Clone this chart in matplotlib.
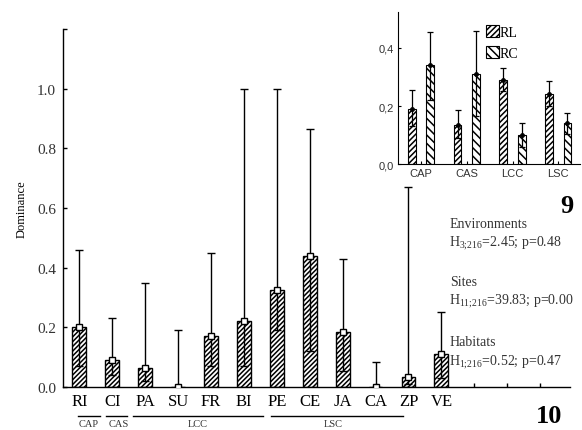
import numpy as np
import matplotlib
matplotlib.use('Agg')
import matplotlib.pyplot as plt
import matplotlib.transforms as mtransforms

plt.rcParams['font.family'] = ['Liberation Serif', 'DejaVu Serif']
plt.rcParams['mathtext.fontset'] = 'custom'
plt.rcParams['mathtext.rm'] = 'Liberation Serif'
plt.rcParams['mathtext.it'] = 'Liberation Serif:italic'
plt.rcParams['hatch.linewidth'] = 1.1

# main chart: dominance per site
sites = ['RI', 'CI', 'PA', 'SU', 'FR', 'BI', 'PE', 'CE', 'JA', 'CA', 'ZP', 'VE']
dominance = [0.20, 0.09, 0.065, 0.0, 0.17, 0.22, 0.325, 0.44, 0.185, 0.0, 0.035, 0.11]
err_upper = [0.46, 0.23, 0.35, 0.19, 0.45, 1.0, 1.0, 0.865, 0.43, 0.085, 0.67, 0.25]
err_lower = [0.07, 0.04, 0.02, 0.0, 0.07, 0.07, 0.19, 0.12, 0.055, 0.0, 0.01, 0.03]
n_slots = 15

# site groups (environment) under the axis
groups = ['CAP', 'CAS', 'LCC', 'LSC']
group_span = [(-0.03, 0.64), (0.82, 1.45), (1.64, 5.58), (5.82, 9.82)]
group_label_x = [0.27, 1.2, 3.6, 7.7]

# inset: RL / RC per environment
envs = ['CAP', 'CAS', 'LCC', 'LSC']
rl_vals = [0.19, 0.135, 0.29, 0.24]
rl_up = [0.255, 0.185, 0.33, 0.285]
rl_lo = [0.13, 0.09, 0.25, 0.20]
rc_vals = [0.34, 0.31, 0.10, 0.14]
rc_up = [0.455, 0.46, 0.14, 0.175]
rc_lo = [0.22, 0.165, 0.06, 0.105]

fig = plt.figure(figsize=(5.82, 4.31), dpi=100)
ax = fig.add_axes([0.108, 0.0998, 0.871, 0.8302])

x = np.arange(len(sites))
dom = np.array(dominance)
ax.bar(x, dom, width=0.42, facecolor='white', edgecolor='black',
       hatch='///////', linewidth=1.0, zorder=2)
yerr = np.array([dom - np.array(err_lower), np.array(err_upper) - dom])
ax.errorbar(x, dom, yerr=yerr, fmt='s', mfc='white', mec='black', ms=4,
            mew=1.0, ecolor='black', elinewidth=1.0, capsize=3, capthick=1.0,
            zorder=3)

ax.set_xlim(-0.5, 14.9)
ax.set_ylim(0, 1.2)
ax.set_xticks(np.arange(n_slots))
ax.set_xticklabels(sites + [''] * (n_slots - len(sites)), fontsize=12)
ax.set_yticks([0, 0.2, 0.4, 0.6, 0.8, 1.0, 1.2])
ax.set_yticklabels(['0.0', '0.2', '0.4', '0.6', '0.8', '1.0', ''], fontsize=11,
                   color='#333333')
ax.tick_params(direction='in', length=3, width=1, pad=5)
ax.tick_params(axis='x', pad=4)
for s in ['top', 'right']:
    ax.spines[s].set_visible(False)
for s in ['left', 'bottom']:
    ax.spines[s].set_linewidth(1.0)

trans = mtransforms.blended_transform_factory(ax.transData, ax.transAxes)
for g, (a, b), lx in zip(groups, group_span, group_label_x):
    ax.plot([a, b], [-0.081, -0.081], color='black', lw=1.0,
            transform=trans, clip_on=False)
    ax.text(lx, -0.103, g, transform=trans, ha='center', va='center',
            fontsize=7.5, color='#333333')

fig.text(22 / 582, 1 - 209 / 431, 'Dominance', rotation=90, ha='center',
         va='center', fontsize=9)

# statistics text
stats = [('Environments', r'H$_{\mathrm{3;\!216}}$=2.45; p=0.48', 225, 243),
         ('Sites', r'H$_{\mathrm{11;\!216}}$=39.83; p=0.00', 282, 301),
         ('Habitats', r'H$_{\mathrm{1;\!216}}$=0.52; p=0.47', 342, 362)]
for title, line, y1, y2 in stats:
    fig.text(450 / 582, 1 - y1 / 431, title, ha='left', va='center',
             fontsize=10, color='#333333')
    fig.text(449 / 582, 1 - y2 / 431, line, ha='left', va='center',
             fontsize=10, color='#333333')

fig.text(567 / 582, 1 - 207 / 431, '9', ha='center', va='center',
         fontsize=19, fontweight='bold')
fig.text(549 / 582, 1 - 417 / 431, '10', ha='center', va='center',
         fontsize=19, fontweight='bold')

# inset
axi = fig.add_axes([0.684, 0.617, 0.313, 0.353])
xi = np.arange(len(envs))
off = 0.2
bw = 0.17
rl = np.array(rl_vals)
rc = np.array(rc_vals)
axi.bar(xi - off, rl, width=bw, facecolor='white', edgecolor='black',
        hatch='//////', linewidth=0.8, label='RL', zorder=2)
axi.bar(xi + off, rc, width=bw, facecolor='white', edgecolor='black',
        hatch='\\\\\\\\', linewidth=0.8, label='RC', zorder=2)
axi.errorbar(xi - off, rl, yerr=[rl - np.array(rl_lo), np.array(rl_up) - rl],
             fmt='o', ms=2.5, color='black', elinewidth=0.9, capsize=2,
             capthick=0.9, zorder=3)
axi.errorbar(xi + off, rc, yerr=[rc - np.array(rc_lo), np.array(rc_up) - rc],
             fmt='o', ms=2.5, color='black', elinewidth=0.9, capsize=2,
             capthick=0.9, zorder=3)
axi.set_xlim(-0.5, 3.48)
axi.set_ylim(0, 0.524)
axi.set_xticks(xi)
axi.set_xticklabels(envs, fontsize=8, family='Liberation Sans', color='#333333')
axi.set_yticks([0, 0.2, 0.4])
axi.set_yticklabels(['0,0', '0,2', '0,4'], fontsize=8, family='Liberation Sans',
                    color='#333333')
axi.tick_params(direction='in', length=2.5, width=0.8, pad=3)
for s in ['top', 'right']:
    axi.spines[s].set_visible(False)
axi.legend(loc='upper left', bbox_to_anchor=(0.43, 0.98), frameon=False,
           fontsize=10, handlelength=0.9, handleheight=1.0, handletextpad=0.1,
           borderpad=0.2, labelspacing=0.5)

fig.savefig('out.png', dpi=100, facecolor='w')
